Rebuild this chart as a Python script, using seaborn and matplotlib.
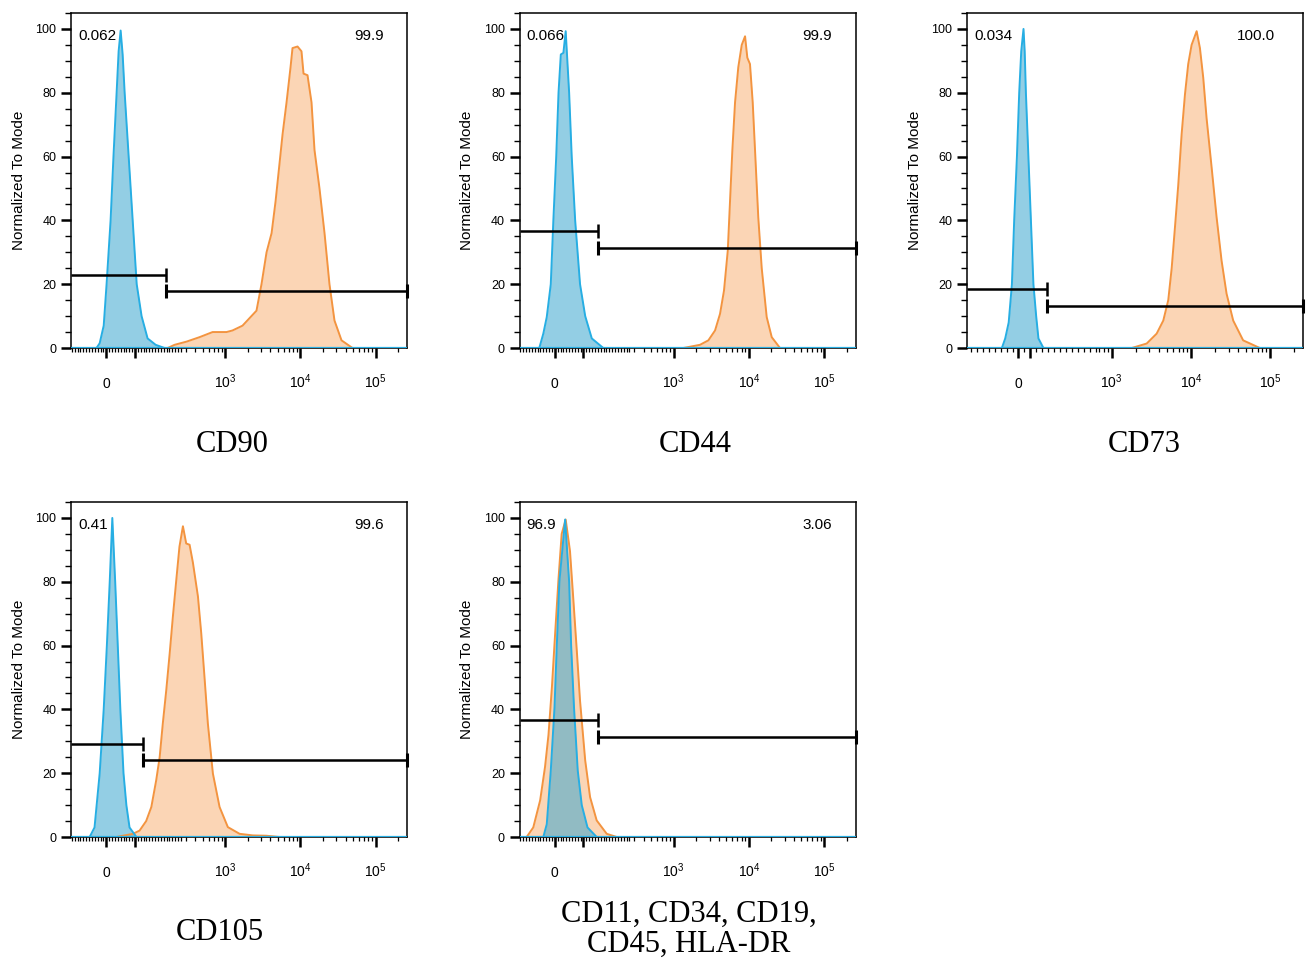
import numpy as np
import matplotlib
matplotlib.use("Agg")
import matplotlib.pyplot as plt
import seaborn as sns

# === Panel labels and gate statistics ===
markers = ["CD90", "CD44", "CD73", "CD105", "CD11, CD34, CD19,\nCD45, HLA-DR"]
pct_left = ["0.062", "0.066", "0.034", "0.41", "96.9"]
pct_right = ["99.9", "99.9", "100.0", "99.6", "3.06"]

# gate heights (% of mode) and the split value between the two gates
gate_left_y = [23.0, 36.8, 18.6, 29.0, 36.8]
gate_right_y = [18.0, 31.2, 13.3, 24.2, 31.2]
gate_split = [207, 152, 242, 128, 150]

# biexponential-like axis: linear width and range of each panel
lin_width = [262, 262, 662, 262, 262]
x_min = [-123, -123, -431, -123, -123]
x_max = 262144

# === Histograms (fluorescence, % of mode): isotype (blue) and marker (orange) ===
cd90_iso_x = [-34, -23, -9, 1, 15, 25, 36, 43, 50, 57, 64, 78, 92, 106, 123, 144, 172, 203]
cd90_iso_y = [0, 1.5, 7, 20, 40, 60, 80, 93, 99.5, 92, 80, 60, 40, 20, 10, 3, 1, 0]
cd90_x = [214, 238, 306, 456, 680, 1043, 1252, 1700, 2608, 3041, 3550, 4142, 4680, 5798, 6550,
          7400, 7860, 9170, 10350, 11020, 12450, 14070, 15430, 17970, 20960, 24390, 28450, 35270, 49360]
cd90_y = [0, 1, 2, 3.4, 5, 5, 5.5, 7, 11.7, 20, 30, 36, 46, 67, 77,
          88, 94, 94.5, 93, 86, 85.5, 77, 62, 50, 36, 20, 8.6, 2.4, 0]

cd44_iso_x = [-54, -40, -28, -14, -5, 5, 13, 21, 30, 38, 50, 59, 71, 88, 106, 129, 169]
cd44_iso_y = [0, 4.5, 9.7, 20, 40, 60, 80, 92, 92.5, 99.3, 80, 60, 40, 20, 10, 3, 0]
cd44_x = [1344, 2240, 2892, 3550, 4134, 4669, 5240, 5615, 6030, 6550, 7232,
          8040, 8900, 9540, 10350, 11250, 12080, 13340, 14830, 17270, 20150, 25960]
cd44_y = [0, 1, 2.4, 5.5, 10.7, 18, 30.5, 46, 62, 77, 88,
          95, 97.7, 91, 89, 77, 62, 41, 25, 9.7, 3.4, 0]

cd73_iso_x = [-139, -111, -82, -55, -36, -13, 6, 23, 42, 52, 62, 83, 104, 125, 148, 167, 209]
cd73_iso_y = [0, 3, 8, 20, 40, 60, 80, 93, 100, 93, 80, 60, 40, 20, 10, 3, 0]
cd73_x = [1790, 2767, 3698, 4487, 5185, 5727, 6310, 6932, 7652, 8433, 9270, 10230,
          11850, 13040, 14360, 15830, 18330, 21180, 24480, 28330, 34360, 45880, 74610]
cd73_y = [0, 1.4, 4.5, 8.6, 15, 25, 38, 51, 67, 79.5, 89, 95,
          99.3, 94, 84.7, 72, 56.6, 41, 27.4, 17, 8.6, 2.4, 0]

cd105_iso_x = [-58, -41, -23, -9, 2, 12, 21, 31, 40, 49, 60, 70, 81, 105]
cd105_iso_y = [0, 3, 20, 40, 60, 80, 100, 80, 60, 40, 20, 10, 3, 0]
cd105_x = [35, 93, 116, 139, 157, 174, 186, 197, 209, 221, 232, 244, 255, 274,
           303, 336, 372, 434, 480, 531, 588, 686, 842, 1085, 1554, 2330, 3519, 5290]
cd105_y = [0, 1, 2, 5, 9.4, 17.8, 25, 35.6, 46, 57.6, 69, 80.6, 91, 97.4,
           92, 91.6, 86, 75.4, 63.9, 50, 35.6, 19.9, 9.4, 3.1, 1, 0.5, 0.4, 0]

neg_iso_x = [-40, -28, -14, -1, 7, 16, 36, 50, 57, 67, 80, 94, 114, 146]
neg_iso_y = [0, 4, 20.8, 40.6, 60, 80, 99.5, 80, 60, 40.6, 20.8, 10, 3, 0]
neg_x = [-98, -75, -51, -34, -22, -10, 1, 13, 24, 38, 53, 65, 77, 88, 106, 123, 146, 181, 216]
neg_y = [0, 3, 11.5, 22, 32, 47, 63.5, 81, 95, 99.5, 89.6, 74, 58, 42.7, 24, 12.5, 5.2, 1, 0]

iso_curves = [(cd90_iso_x, cd90_iso_y), (cd44_iso_x, cd44_iso_y), (cd73_iso_x, cd73_iso_y),
              (cd105_iso_x, cd105_iso_y), (neg_iso_x, neg_iso_y)]
marker_curves = [(cd90_x, cd90_y), (cd44_x, cd44_y), (cd73_x, cd73_y),
                 (cd105_x, cd105_y), (neg_x, neg_y)]

# === Style ===
BLUE_LINE, BLUE_FILL = "#27aee3", "#3aa6cf"
ORANGE_LINE, ORANGE_FILL = "#f39440", "#f7a35c"

sns.set_style("ticks")
plt.rcParams["font.family"] = ["Liberation Sans", "DejaVu Sans"]
plt.rcParams["mathtext.fontset"] = "custom"
plt.rcParams["mathtext.rm"] = "Liberation Sans"
plt.rcParams["mathtext.default"] = "rm"
for key in ("text.color", "axes.labelcolor", "xtick.color", "ytick.color", "axes.edgecolor"):
    plt.rcParams[key] = "black"

W, H = 1306, 963
col_left = [71, 519.5, 967]
row_bottom = [348, 837]
title_pos = [(232, 444), (695, 444), (1144, 444), (220, 932), (689, 929)]
pct_right_x = [0.887, 0.887, 0.86, 0.887, 0.887]

fig = plt.figure(figsize=(W / 100, H / 100), dpi=100)

for i in range(5):
    r, c = divmod(i, 3)
    ax = fig.add_axes([col_left[c] / W, (H - row_bottom[r]) / H, 336 / W, 335 / H])
    lt = lin_width[i]
    ax.set_xscale("symlog", linthresh=lt, linscale=0.9)

    mx, my = marker_curves[i]
    ax.fill_between(mx, 0, my, color=ORANGE_FILL, alpha=0.45, lw=0)
    sns.lineplot(x=mx, y=my, ax=ax, color=ORANGE_LINE, lw=1.4, errorbar=None)
    bx, by = iso_curves[i]
    ax.fill_between(bx, 0, by, color=BLUE_FILL, alpha=0.55, lw=0)
    sns.lineplot(x=bx, y=by, ax=ax, color=BLUE_LINE, lw=1.4, errorbar=None)
    ax.axhline(0, color=BLUE_LINE, lw=1.6, zorder=3)

    # gates
    split = gate_split[i]
    ax.hlines(gate_left_y[i], x_min[i], split, color="black", lw=1.8, zorder=5)
    ax.plot([split], [gate_left_y[i]], marker="|", ms=10, mew=1.8, color="black", zorder=5)
    ax.hlines(gate_right_y[i], split, x_max, color="black", lw=1.8, zorder=5)
    ax.plot([split, x_max], [gate_right_y[i]] * 2, ls="none", marker="|", ms=10,
            mew=2.2, color="black", zorder=5, clip_on=False)

    ax.text(0.021, 0.932, pct_left[i], transform=ax.transAxes, ha="left", va="center", fontsize=11)
    ax.text(pct_right_x[i], 0.932, pct_right[i], transform=ax.transAxes, ha="center",
            va="center", fontsize=11)

    ax.set_xlim(x_min[i], x_max)
    ax.set_ylim(0, 105)

    # axis ticks
    ax.set_xticks([0, 100, 1e3, 1e4, 1e5])
    ax.set_xticklabels(["0", "", "$10^{3}$", "$10^{4}$", "$10^{5}$"])
    step = 10 if lt < 400 else 50
    lin_minor = [v for v in np.arange(np.ceil(x_min[i] / step) * step, lt, step) if v not in (0, 100)]
    log_minor = [m * 10 ** k for k in (2, 3, 4, 5) for m in range(2, 10) if lt < m * 10 ** k < x_max]
    ax.set_xticks(lin_minor + log_minor, minor=True)
    ax.set_yticks(range(0, 101, 20))
    ax.set_yticks(range(0, 106, 5), minor=True)
    ax.tick_params(axis="x", which="major", length=7, width=1.8, labelsize=10, pad=22)
    ax.tick_params(axis="x", which="minor", length=3, width=0.9)
    ax.tick_params(axis="y", which="major", length=7.5, width=1.8, labelsize=9, pad=3)
    ax.tick_params(axis="y", which="minor", length=4, width=1.0)
    for lab in ax.get_xticklabels():
        lab.set_verticalalignment("baseline")

    ax.set_xlabel("")
    ax.set_ylabel("Normalized To Mode", fontsize=11, labelpad=7)
    for s in ax.spines.values():
        s.set_linewidth(1.1)
        s.set_visible(True)

    tx, ty = title_pos[i]
    fig.text(tx / W, 1 - ty / H, markers[i], ha="center", va="center", fontsize=22,
             family="Liberation Serif", linespacing=1.05)

fig.savefig("out.png", dpi=100)
